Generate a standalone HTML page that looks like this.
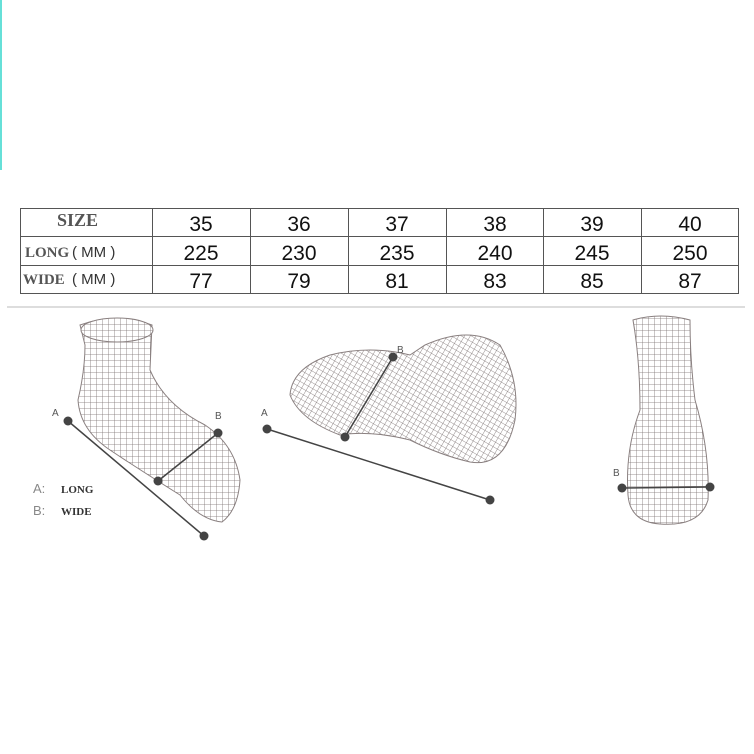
<!DOCTYPE html>
<html><head><meta charset="utf-8"><style>
body{margin:0;background:#fff;width:754px;height:754px;overflow:hidden;position:relative;font-family:"Liberation Sans",sans-serif}
</style></head><body>
<svg width="754" height="754" viewBox="0 0 754 754" style="position:absolute;left:0;top:0">
<defs>
<pattern id="m" width="6" height="6" patternUnits="userSpaceOnUse">
<rect width="6" height="6" fill="#fff"/>
<path d="M0 0H6M0 0V6" stroke="#7a7070" stroke-width="0.8"/>
</pattern>
<pattern id="m2" width="5" height="5" patternUnits="userSpaceOnUse" patternTransform="rotate(30)">
<rect width="5" height="5" fill="#fff"/>
<path d="M0 0H5M0 0V5" stroke="#7a7070" stroke-width="0.8"/>
</pattern>
</defs>
<rect x="0" y="0" width="2" height="170" fill="#66e0d8"/>
<g stroke="#555" stroke-width="1" fill="none">
<rect x="20.5" y="208.5" width="718" height="85"/>
<line x1="20" y1="236.5" x2="739" y2="236.5"/>
<line x1="20" y1="265.5" x2="739" y2="265.5"/>
<line x1="152.5" y1="208" x2="152.5" y2="294"/>
<line x1="250.5" y1="208" x2="250.5" y2="294"/>
<line x1="348.5" y1="208" x2="348.5" y2="294"/>
<line x1="446.5" y1="208" x2="446.5" y2="294"/>
<line x1="543.5" y1="208" x2="543.5" y2="294"/>
<line x1="641.5" y1="208" x2="641.5" y2="294"/>
</g>
<line x1="7" y1="307" x2="745" y2="307" stroke="#bbb" stroke-width="1"/>
<g font-family="Liberation Serif,serif" font-weight="bold" fill="#555">
<text x="57" y="226" font-size="18">SIZE</text>
<text x="25" y="257" font-size="15">LONG</text>
<text x="23" y="284" font-size="15">WIDE</text>
</g>
<g font-family="Liberation Sans,sans-serif" font-size="15" fill="#333">
<text x="72" y="257">( MM )</text>
<text x="72" y="284">( MM )</text>
</g>
<g font-family="Liberation Sans,sans-serif" font-size="21" fill="#111" text-anchor="middle">
<text x="201" y="231">35</text><text x="299" y="231">36</text><text x="397" y="231">37</text><text x="495" y="231">38</text><text x="592" y="231">39</text><text x="690" y="231">40</text>
<text x="201" y="260">225</text><text x="299" y="260">230</text><text x="397" y="260">235</text><text x="495" y="260">240</text><text x="592" y="260">245</text><text x="690" y="260">250</text>
<text x="201" y="288">77</text><text x="299" y="288">79</text><text x="397" y="288">81</text><text x="495" y="288">83</text><text x="592" y="288">85</text><text x="690" y="288">87</text>
</g>
<path d="M80 325 Q115 312 152 325 L150 370 Q165 405 205 425 Q235 445 240 480 Q238 510 222 522 Q200 520 180 495 Q140 470 110 450 Q80 430 78 400 Q85 370 85 345 Z" fill="url(#m)" stroke="#8a8080" stroke-width="1"/>
<ellipse cx="117" cy="330" rx="36" ry="12" fill="url(#m)" stroke="#8a8080"/>
<path d="M290 395 Q292 368 330 355 Q370 345 410 355 L425 345 Q470 325 500 345 Q520 380 515 420 Q505 468 470 462 Q440 455 410 440 Q370 430 340 435 Q300 420 290 395 Z" fill="url(#m2)" stroke="#8a8080"/>
<path d="M633 320 Q660 312 690 320 Q690 360 695 400 Q710 450 708 500 Q700 527 660 524 Q630 522 628 495 Q625 450 640 410 Q640 360 633 320 Z" fill="url(#m)" stroke="#8a8080"/>
<g stroke="#444" stroke-width="1.5">
<line x1="68" y1="421" x2="204" y2="536"/>
<line x1="158" y1="481" x2="218" y2="433"/>
<line x1="267" y1="429" x2="490" y2="500"/>
<line x1="345" y1="437" x2="393" y2="357"/>
<line x1="622" y1="488" x2="710" y2="487"/>
</g>
<g fill="#444">
<circle cx="68" cy="421" r="4.5"/><circle cx="204" cy="536" r="4.5"/>
<circle cx="158" cy="481" r="4.5"/><circle cx="218" cy="433" r="4.5"/>
<circle cx="267" cy="429" r="4.5"/><circle cx="490" cy="500" r="4.5"/>
<circle cx="345" cy="437" r="4.5"/><circle cx="393" cy="357" r="4.5"/>
<circle cx="622" cy="488" r="4.5"/><circle cx="710" cy="487" r="4.5"/>
</g>
<g font-family="Liberation Sans,sans-serif" font-size="10" fill="#555">
<text x="52" y="416">A</text><text x="215" y="419">B</text>
<text x="261" y="416">A</text><text x="397" y="353">B</text>
<text x="613" y="476">B</text>
<text x="33" y="493" font-size="13" fill="#888">A:</text>
<text x="33" y="515" font-size="13" fill="#888">B:</text>
</g>
<g font-family="Liberation Serif,serif" font-weight="bold" font-size="11" fill="#333">
<text x="61" y="493">LONG</text><text x="61" y="515">WIDE</text>
</g>
</svg>
</body></html>
